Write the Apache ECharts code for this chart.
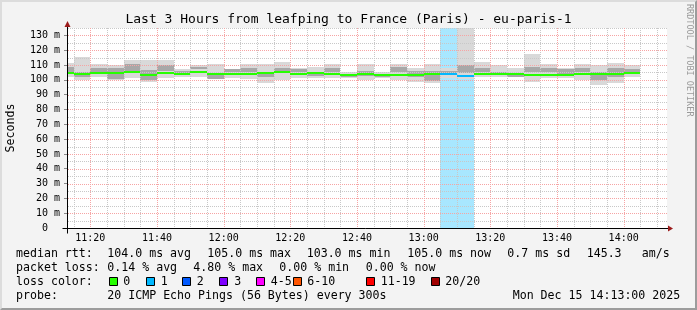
<!DOCTYPE html>
<html><head><meta charset="utf-8">
<script src="https://cdn.jsdelivr.net/npm/echarts@6/dist/echarts.min.js"></script>
<style>
html,body{margin:0;padding:0;background:#f3f3f3;}
#c{position:absolute;left:0;top:0;width:697px;height:310px;}
#frame{position:absolute;left:0;top:0;width:697px;height:310px;box-sizing:border-box;border-top:2px solid #dcdcdc;border-left:2px solid #dcdcdc;border-right:2px solid #9c9c9c;border-bottom:2px solid #9c9c9c;pointer-events:none;}
</style></head><body><div id="c"></div><div id="frame"></div>
<script>
// ---- data ----
const times = ['11:13','11:15','11:20','11:25','11:30','11:35','11:40','11:45','11:50','11:55','12:00','12:05','12:10','12:15','12:20','12:25','12:30','12:35','12:40','12:45','12:50','12:55','13:00','13:05','13:10','13:15','13:20','13:25','13:30','13:35','13:40','13:45','13:50','13:55','14:00','14:05'];
const timeRange = ['11:13','14:13'];
const xLabelTimes = ['11:20','11:40','12:00','12:20','12:40','13:00','13:20','13:40','14:00'];
const median = [104.8,104.0,104.8,104.8,105.0,103.0,104.8,104.2,105.4,104.0,104.2,104.2,104.7,105.0,103.9,104.8,104.2,103.0,104.2,103.3,103.0,103.0,104.2,103.8,102.6,104.2,104.0,104.0,103.4,103.0,103.0,103.7,104.0,104.2,104.8];
const loss   = [0,0,0,0,0,0,0,0,0,0,0,0,0,0,0,0,0,0,0,0,0,0,0,1,1,0,0,0,0,0,0,0,0,0,0];
const smokeLo = [102.0,99.6,102.1,99.9,101.0,98.8,101.5,102.0,102.0,100.3,101.0,100.8,97.7,99.9,101.0,101.0,101.0,101.0,100.0,101.0,100.0,98.8,98.0,101.5,100.5,102.0,102.0,102.0,98.8,101.0,101.0,99.9,96.3,97.7,102.0];
const smokeHi = [111.5,115.2,110.7,110.0,113.1,113.1,113.6,107.0,110.0,110.5,107.5,110.9,110.7,112.2,107.7,109.0,110.7,105.6,110.9,105.5,110.7,108.3,110.9,108.0,140.0,112.2,109.7,108.0,117.2,110.7,108.3,110.9,109.7,111.4,109.7];
const darkLo = [105.5,102.1,105.0,100.5,105.6,100.0,106.0,104.0,107.0,100.4,105.4,105.0,102.0,105.0,105.4,102.3,105.0,102.0,102.5,102.0,105.5,102.0,99.4,103.0,104.4,105.0,103.0,102.0,105.6,105.0,103.0,105.0,99.9,102.0,105.4];
const darkHi = [108.5,105.6,108.0,108.0,110.5,106.6,110.0,106.0,109.0,103.3,107.0,108.0,104.0,108.0,107.0,104.4,108.0,104.0,106.2,104.0,108.9,106.2,106.2,106.0,110.0,108.0,105.0,104.4,108.9,108.0,107.0,108.0,105.5,108.0,107.0];
const yMax = 135;
const lossLabels = ['0','1','2','3','4-5','6-10','11-19','20/20'];
const lossColors = ['#26ff00','#00b8ff','#0059ff','#7e00ff','#ff00ff','#ff5500','#ff0000','#a00000'];
const lossBgColors = ['rgba(38,255,0,0.34)','rgba(0,184,255,0.34)','rgba(0,89,255,0.34)','rgba(126,0,255,0.34)','rgba(255,0,255,0.34)','rgba(255,85,0,0.34)','rgba(255,0,0,0.34)','rgba(160,0,0,0.34)'];
const titleText = 'Last 3 Hours from leafping to France (Paris) - eu-paris-1';
const medianStats = ['104.0 ms avg','105.0 ms max','103.0 ms min','105.0 ms now','0.7 ms sd','145.3','am/s'];
const lossStats = ['0.14 % avg','4.80 % max','0.00 % min','0.00 % now'];
const probeText = '20 ICMP Echo Pings (56 Bytes) every 300s';
const dateText = 'Mon Dec 15 14:13:00 2025';

// ---- helpers ----
function toMin(s){const p=s.split(':');return (+p[0])*60+(+p[1]);}
function fmt(m){const h=Math.floor(m/60),mm=m%60;return (h<10?'0':'')+h+':'+(mm<10?'0':'')+mm;}
const X0=toMin(timeRange[0]), X1=toMin(timeRange[1]);
const segs = median.map((v,i)=>[toMin(times[i]),toMin(times[i+1])]);

const lossData=[], lightData=[], darkData=[], medData=[];
segs.forEach((s,i)=>{
  if(loss[i]>0) lossData.push([s[0],s[1],0,yMax,loss[i]]);
  lightData.push([s[0],s[1],smokeLo[i],smokeHi[i]]);
  darkData.push([s[0],s[1],darkLo[i],darkHi[i]]);
  medData.push([s[0],s[1],median[i],loss[i]]);
});
// grid lines: [orientation, value]
const minorGrid=[], majorGrid=[];
for(let m=675;m<X1;m+=5){ if(m%20!==0) minorGrid.push([0,m]); }
for(let v=5;v<=yMax;v+=10){ minorGrid.push([1,v]); }
for(let m=680;m<X1;m+=20){ majorGrid.push([0,m]); }
for(let v=10;v<yMax;v+=10){ majorGrid.push([1,v]); }

function rectItem(src,fillFn){
  return function(params,api){
    const d=src[params.dataIndex];
    const lo=Math.max(d[2],0),hi=Math.min(d[3],yMax);
    const p0=api.coord([d[0],hi]),p1=api.coord([d[1],lo]);
    const xa=Math.round(p0[0]),xb=Math.round(p1[0]),ya=Math.round(p0[1]),yb=Math.round(p1[1]);
    return {type:'rect',shape:{x:xa,y:ya,width:xb-xa,height:yb-ya},style:{fill:fillFn(d)}};
  };
}
function medItem(params,api){
  const d=medData[params.dataIndex];
  const p0=api.coord([d[0],d[2]]),p1=api.coord([d[1],d[2]]);
  const xa=Math.round(p0[0]),xb=Math.round(p1[0]),y=Math.round(p0[1]);
  return {type:'rect',shape:{x:xa,y:y-1,width:xb-xa,height:2},style:{fill:lossColors[d[3]]}};
}
// grid lines drawn as rows of 1px dots (rect), for crisp dotted look
function gridItem(src,color){
  return function(params,api){
    const d=src[params.dataIndex];
    const kids=[];
    if(d[0]===0){
      const a=api.coord([d[1],0]),b=api.coord([d[1],yMax]);
      const x=Math.round(a[0]);
      for(let y=Math.round(b[1]);y<Math.round(a[1]);y+=2) kids.push({type:'rect',shape:{x:x,y:y,width:1,height:1},style:{fill:color}});
    } else {
      const a=api.coord([X0,d[1]]),b=api.coord([X1,d[1]]);
      const y=Math.round(a[1]);
      for(let x=Math.round(a[0])+1;x<Math.round(b[0]);x+=2) kids.push({type:'rect',shape:{x:x,y:y,width:1,height:1},style:{fill:color}});
    }
    return {type:'group',children:kids};
  };
}
function axesItem(params,api){
  const o=api.coord([X0,0]),xe=api.coord([X1,0]),yt=api.coord([X0,yMax]);
  const ox=Math.round(o[0])+0.5, oy=Math.round(o[1])+0.5, ex=Math.round(xe[0]), ty=Math.round(yt[1]);
  return {type:'group',children:[
    {type:'line',shape:{x1:ox-5,y1:oy,x2:ex+1,y2:oy},style:{stroke:'#000',lineWidth:1}},
    {type:'line',shape:{x1:ox,y1:oy+5,x2:ox,y2:ty-1},style:{stroke:'#000',lineWidth:1}},
    {type:'polygon',shape:{points:[[ex+1,oy-3],[ex+1,oy+3],[ex+6,oy]]},style:{fill:'#9b1b1b'}},
    {type:'polygon',shape:{points:[[ox-3,ty-1],[ox+3,ty-1],[ox,ty-7]]},style:{fill:'#9b1b1b'}}
  ]};
}

const F='DejaVu Sans Mono';
function txt(x,y,s,size){
  return {type:'text',x:x,y:y,silent:true,z:100,style:{text:s,fontFamily:F,fontSize:size,fill:'#000',align:'left',verticalAlign:'middle'}};
}
const graphics=[];
graphics.push({type:'text',x:348.5,y:19.5,silent:true,z:100,style:{text:titleText,fontFamily:F,fontSize:13,fill:'#000',align:'center',verticalAlign:'middle'}});
graphics.push({type:'text',x:10.5,y:128,rotation:Math.PI/2,silent:true,z:100,style:{text:'Seconds',fontFamily:F,fontSize:11.6,fill:'#000',align:'center',verticalAlign:'middle'}});
graphics.push({type:'text',x:689,y:4,rotation:-Math.PI/2,silent:true,z:100,style:{text:'RRDTOOL / TOBI OETIKER',fontFamily:F,fontSize:8.5,fill:'#9a9a9a',align:'left',verticalAlign:'middle'}});
const LF=11.6;
const rowY=[253.5,267.5,281.5,295.5];
graphics.push(txt(16,rowY[0],'median rtt:',LF));
const medX=[107.3,207.3,306.7,407.3,507.3,586.7,641.7];
medianStats.forEach((s,i)=>graphics.push(txt(medX[i],rowY[0],s,LF)));
graphics.push(txt(16,rowY[1],'packet loss:',LF));
const lossX=[107.3,193.3,279.3,365.7];
lossStats.forEach((s,i)=>graphics.push(txt(lossX[i],rowY[1],s,LF)));
graphics.push(txt(16,rowY[2],'loss color:',LF));
const boxX=[109,146,182,219,256,293,366,431];
const lblX=[123.3,160.7,196.7,234.3,270.7,307.3,380.7,445.3];
lossLabels.forEach((s,i)=>{
  graphics.push({type:'rect',silent:true,z:100,shape:{x:boxX[i]+0.5,y:277.5,width:8,height:8},style:{fill:lossColors[i],stroke:'#000',lineWidth:1}});
  graphics.push(txt(lblX[i],rowY[2],s,LF));
});
graphics.push(txt(16,rowY[3],'probe:',LF));
graphics.push(txt(107.3,rowY[3],probeText,LF));
graphics.push(txt(512.7,rowY[3],dateText,LF));

const chart=echarts.init(document.getElementById('c'),null,{renderer:'canvas'});
chart.setOption({
  animation:false,
  backgroundColor:'#f3f3f3',
  grid:{left:67,top:28,width:600,height:200,show:true,backgroundColor:'#ffffff',borderWidth:0,containLabel:false},
  xAxis:{type:'value',min:X0,max:X1,splitNumber:9,
    axisLine:{show:false},axisTick:{show:false},splitLine:{show:false},
    axisLabel:{customValues:xLabelTimes.map(toMin),formatter:function(v){return fmt(v);},fontFamily:F,fontSize:10,color:'#000',margin:5}},
  yAxis:{type:'value',min:0,max:yMax,interval:10,
    axisLine:{show:false},splitLine:{show:false},
    axisTick:{show:true,length:3,lineStyle:{color:'#8a8a8a'}},
    axisLabel:{showMaxLabel:false,formatter:function(v){return v===0?'0  ':v+' m';},fontFamily:F,fontSize:10,color:'#000',margin:7}},
  series:[
    {type:'custom',name:'lossbg',z:1,silent:true,data:lossData,renderItem:rectItem(lossData,function(d){return lossBgColors[d[4]];})},
    {type:'custom',name:'smoke',z:2,silent:true,data:lightData,renderItem:rectItem(lightData,function(){return '#d9d9d9';})},
    {type:'custom',name:'smokedark',z:3,silent:true,data:darkData,renderItem:rectItem(darkData,function(){return '#a8a8a8';})},
    {type:'custom',name:'gridMinor',z:4,silent:true,data:minorGrid,renderItem:gridItem(minorGrid,'#c8c8c8')},
    {type:'custom',name:'gridMajor',z:4,silent:true,data:majorGrid,renderItem:gridItem(majorGrid,'#f6a4a4')},
    {type:'custom',name:'median',z:5,silent:true,data:medData,renderItem:medItem},
    {type:'custom',name:'axes',z:6,silent:true,data:[[X0,0]],renderItem:axesItem}
  ],
  graphic:graphics
});
</script></body></html>
